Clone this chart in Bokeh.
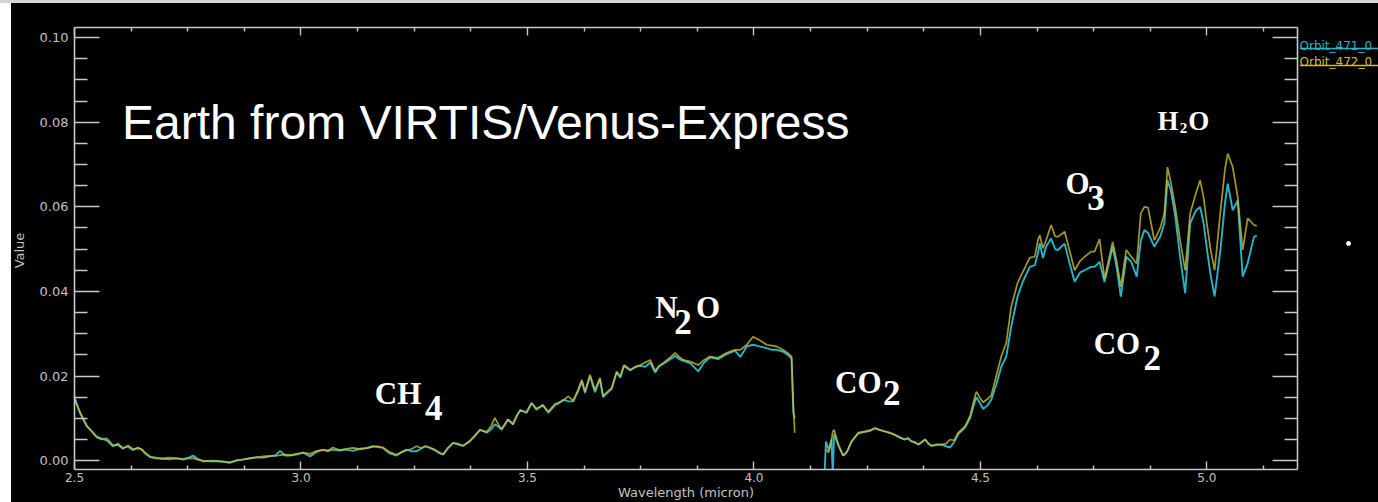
import math

from bokeh.plotting import figure
from bokeh.models import (ColumnDataSource, CustomJSTickFormatter, FixedTicker, Label,
                          LinearAxis, PrintfTickFormatter, Range1d, Spacer)
from bokeh.layouts import column, row
from bokeh.core.properties import value
from bokeh.embed import file_html
from bokeh.resources import INLINE

nan = float("nan")

# ---- spectra: short-wave segment (up to the 4.1 micron cut-off) ----
wl_short = [
    2.500, 2.512, 2.527, 2.540, 2.549, 2.560, 2.571, 2.585, 2.596, 2.607,
    2.618, 2.629, 2.640, 2.648, 2.658, 2.667, 2.680, 2.695, 2.710, 2.725,
    2.740, 2.752, 2.762, 2.772, 2.784, 2.800, 2.814, 2.828, 2.843, 2.858,
    2.872, 2.887, 2.902, 2.917, 2.932, 2.944, 2.954, 2.965, 2.976, 2.990,
    3.005, 3.020, 3.035, 3.049, 3.060, 3.070, 3.085, 3.100, 3.115, 3.130,
    3.145, 3.159, 3.170, 3.181, 3.196, 3.211, 3.222, 3.233, 3.245, 3.255,
    3.265, 3.275, 3.284, 3.296, 3.307, 3.314, 3.325, 3.336, 3.347, 3.358,
    3.373, 3.384, 3.395, 3.410, 3.420, 3.428, 3.436, 3.443, 3.457, 3.468,
    3.476, 3.484, 3.498, 3.509, 3.520, 3.534, 3.546, 3.561, 3.570, 3.579,
    3.590, 3.601, 3.612, 3.620, 3.627, 3.638, 3.649, 3.660, 3.667, 3.676,
    3.686, 3.697, 3.705, 3.713, 3.727, 3.738, 3.749, 3.760, 3.771, 3.782,
    3.790, 3.800, 3.813, 3.826, 3.835, 3.844, 3.860, 3.877, 3.890, 3.903,
    3.921, 3.940, 3.958, 3.970, 3.984, 3.998, 4.012, 4.028, 4.040, 4.050,
    4.064, 4.075, 4.083, 4.087, 4.090,
]
orbit471_short = [
    0.0150, 0.0113, 0.0081, 0.0068, 0.0057, 0.0052, 0.0048, 0.0034, 0.0040, 0.0030,
    0.0033, 0.0025, 0.0031, 0.0026, 0.0015, 0.0009, 0.0007, 0.0005, 0.0007, 0.0005,
    0.0004, 0.0007, 0.0012, 0.0004, -0.0002, 0.0000, -0.0001, -0.0003, -0.0005, 0.0000,
    0.0003, 0.0005, 0.0008, 0.0007, 0.0010, 0.0013, 0.0023, 0.0012, 0.0012, 0.0016,
    0.0019, 0.0010, 0.0021, 0.0026, 0.0024, 0.0026, 0.0024, 0.0026, 0.0023, 0.0028,
    0.0030, 0.0034, 0.0032, 0.0030, 0.0017, 0.0012, 0.0020, 0.0026, 0.0022, 0.0022,
    0.0028, 0.0034, 0.0030, 0.0024, 0.0017, 0.0014, 0.0030, 0.0042, 0.0038, 0.0035,
    0.0046, 0.0058, 0.0073, 0.0066, 0.0074, 0.0086, 0.0080, 0.0073, 0.0097, 0.0085,
    0.0104, 0.0120, 0.0113, 0.0137, 0.0120, 0.0132, 0.0113, 0.0132, 0.0136, 0.0144,
    0.0140, 0.0140, 0.0165, 0.0188, 0.0160, 0.0200, 0.0162, 0.0192, 0.0150, 0.0160,
    0.0170, 0.0209, 0.0196, 0.0224, 0.0213, 0.0222, 0.0224, 0.0222, 0.0232, 0.0208,
    0.0222, 0.0229, 0.0238, 0.0248, 0.0240, 0.0236, 0.0230, 0.0211, 0.0232, 0.0244,
    0.0240, 0.0252, 0.0260, 0.0245, 0.0270, 0.0274, 0.0270, 0.0266, 0.0262, 0.0262,
    0.0258, 0.0250, 0.0242, 0.0113, 0.0100,
]
orbit472_short = [
    0.0145, 0.0115, 0.0083, 0.0066, 0.0055, 0.0050, 0.0053, 0.0036, 0.0037, 0.0028,
    0.0036, 0.0027, 0.0029, 0.0027, 0.0017, 0.0008, 0.0005, 0.0004, 0.0003, 0.0006,
    0.0002, 0.0005, 0.0006, 0.0002, 0.0000, -0.0002, -0.0001, -0.0002, -0.0004, 0.0001,
    0.0002, 0.0006, 0.0008, 0.0010, 0.0011, 0.0011, 0.0013, 0.0014, 0.0013, 0.0014,
    0.0019, 0.0016, 0.0023, 0.0025, 0.0022, 0.0031, 0.0025, 0.0028, 0.0030, 0.0027,
    0.0029, 0.0033, 0.0034, 0.0031, 0.0020, 0.0014, 0.0020, 0.0024, 0.0028, 0.0034,
    0.0030, 0.0034, 0.0031, 0.0026, 0.0018, 0.0015, 0.0031, 0.0042, 0.0040, 0.0035,
    0.0047, 0.0060, 0.0072, 0.0068, 0.0082, 0.0101, 0.0085, 0.0075, 0.0098, 0.0087,
    0.0106, 0.0118, 0.0115, 0.0135, 0.0123, 0.0130, 0.0116, 0.0134, 0.0138, 0.0142,
    0.0152, 0.0142, 0.0168, 0.0191, 0.0163, 0.0203, 0.0167, 0.0196, 0.0152, 0.0162,
    0.0172, 0.0211, 0.0199, 0.0226, 0.0215, 0.0221, 0.0226, 0.0232, 0.0238, 0.0212,
    0.0224, 0.0231, 0.0242, 0.0255, 0.0245, 0.0238, 0.0234, 0.0226, 0.0238, 0.0246,
    0.0243, 0.0255, 0.0262, 0.0262, 0.0274, 0.0293, 0.0285, 0.0274, 0.0272, 0.0270,
    0.0262, 0.0254, 0.0246, 0.0130, 0.0066,
]

# ---- spectra: long-wave segment (after the CO2 gap) ----
wl_long = [
    4.156, 4.159, 4.165, 4.171, 4.174, 4.177, 4.187, 4.197, 4.205, 4.216,
    4.230, 4.245, 4.256, 4.267, 4.278, 4.289, 4.300, 4.311, 4.322, 4.333,
    4.340, 4.347, 4.355, 4.363, 4.370, 4.378, 4.385, 4.392, 4.403, 4.414,
    4.424, 4.433, 4.442, 4.451, 4.466, 4.477, 4.485, 4.491, 4.498, 4.506,
    4.515, 4.524, 4.535, 4.546, 4.557, 4.568, 4.582, 4.594, 4.609, 4.620,
    4.627, 4.631, 4.638, 4.645, 4.656, 4.665, 4.671, 4.686, 4.696, 4.708,
    4.720, 4.730, 4.744, 4.752, 4.763, 4.774, 4.792, 4.801, 4.810, 4.822,
    4.833, 4.845, 4.854, 4.862, 4.870, 4.884, 4.897, 4.906, 4.913, 4.920,
    4.930, 4.941, 4.952, 4.963, 4.975, 4.985, 4.993, 5.000, 5.008, 5.017,
    5.030, 5.040, 5.046, 5.057, 5.068, 5.079, 5.090, 5.104, 5.110,
]
orbit471_long = [
    -0.0030, 0.0045, 0.0025, 0.0050, -0.0030, 0.0062, 0.0036, 0.0012, 0.0020, 0.0046,
    0.0064, 0.0068, 0.0070, 0.0076, 0.0072, 0.0069, 0.0066, 0.0061, 0.0054, 0.0050,
    0.0054, 0.0046, 0.0044, 0.0038, 0.0044, 0.0050, 0.0040, 0.0035, 0.0038, 0.0038,
    0.0034, 0.0031, 0.0044, 0.0063, 0.0078, 0.0100, 0.0130, 0.0150, 0.0138, 0.0122,
    0.0130, 0.0144, 0.0180, 0.0222, 0.0246, 0.0317, 0.0388, 0.0424, 0.0458, 0.0462,
    0.0490, 0.0514, 0.0479, 0.0506, 0.0525, 0.0500, 0.0498, 0.0513, 0.0470, 0.0423,
    0.0445, 0.0450, 0.0458, 0.0458, 0.0470, 0.0422, 0.0506, 0.0455, 0.0388, 0.0482,
    0.0470, 0.0435, 0.0520, 0.0545, 0.0538, 0.0506, 0.0530, 0.0561, 0.0663, 0.0640,
    0.0580, 0.0480, 0.0396, 0.0561, 0.0590, 0.0600, 0.0560, 0.0500, 0.0440, 0.0388,
    0.0500, 0.0610, 0.0655, 0.0592, 0.0615, 0.0435, 0.0467, 0.0529, 0.0532,
]
orbit472_long = [
    nan, 0.0026, 0.0019, 0.0046, 0.0068, 0.0073, 0.0034, 0.0012, 0.0020, 0.0046,
    0.0066, 0.0069, 0.0072, 0.0077, 0.0073, 0.0069, 0.0065, 0.0061, 0.0056, 0.0050,
    0.0052, 0.0046, 0.0042, 0.0038, 0.0043, 0.0050, 0.0041, 0.0035, 0.0037, 0.0038,
    0.0040, 0.0050, 0.0048, 0.0066, 0.0081, 0.0105, 0.0140, 0.0163, 0.0150, 0.0138,
    0.0145, 0.0154, 0.0200, 0.0246, 0.0278, 0.0364, 0.0420, 0.0447, 0.0480, 0.0482,
    0.0521, 0.0533, 0.0502, 0.0521, 0.0557, 0.0530, 0.0529, 0.0541, 0.0500, 0.0450,
    0.0472, 0.0482, 0.0494, 0.0494, 0.0524, 0.0430, 0.0517, 0.0470, 0.0411, 0.0498,
    0.0482, 0.0466, 0.0584, 0.0600, 0.0598, 0.0521, 0.0550, 0.0584, 0.0694, 0.0660,
    0.0600, 0.0520, 0.0450, 0.0584, 0.0630, 0.0663, 0.0620, 0.0560, 0.0500, 0.0450,
    0.0590, 0.0690, 0.0726, 0.0694, 0.0623, 0.0498, 0.0573, 0.0557, 0.0555,
]

x_major_ticks = [2.5, 3.0, 3.5, 4.0, 4.5, 5.0]
y_major_ticks = [0.00, 0.02, 0.04, 0.06, 0.08, 0.10]
series_names = ["Orbit_471_0", "Orbit_472_0"]

CYAN = "#22b6c8"
YELLOW = "#d2bb2c"
AXIS = "#c8c8c8"
LABEL = "#c2c2c2"

source = ColumnDataSource(dict(
    wl=wl_short + [nan] + wl_long,
    o471=orbit471_short + [nan] + orbit471_long,
    o472=orbit472_short + [nan] + orbit472_long,
))

p = figure(width=1269, height=499, title=None,
           x_range=Range1d(2.5, 5.2), y_range=Range1d(-0.0021, 0.1024),
           output_backend="svg", toolbar_location=None,
           background_fill_color="black", border_fill_color="black",
           outline_line_color=None,
           min_border_left=44, min_border_right=2,
           min_border_top=24, min_border_bottom=32)
p.grid.visible = False

# tick positions: 4 minor intervals per major step
x_minor = [2.5 + 0.125 * k for k in range(22) if k % 4]
y_minor = [0.005 * k for k in range(21) if k % 4]
x_ticker = FixedTicker(ticks=x_major_ticks, minor_ticks=x_minor)
y_ticker = FixedTicker(ticks=y_major_ticks, minor_ticks=y_minor)


def style_axis(ax, major_in, minor_in, label_px="12px"):
    ax.axis_line_color = AXIS
    ax.axis_line_width = 1.6
    ax.major_tick_line_color = AXIS
    ax.minor_tick_line_color = AXIS
    ax.major_tick_line_width = 1.4
    ax.minor_tick_line_width = 1.4
    ax.major_tick_in = major_in
    ax.major_tick_out = 0
    ax.minor_tick_in = minor_in
    ax.minor_tick_out = 0
    ax.major_label_text_color = LABEL
    ax.major_label_text_font = "DejaVu Sans"
    ax.major_label_text_font_size = label_px
    ax.axis_label_text_color = LABEL
    ax.axis_label_text_font = "DejaVu Sans"
    ax.axis_label_text_font_size = "13px"
    ax.axis_label_text_font_style = "normal"


xb = p.xaxis[0]
xb.ticker = x_ticker
xb.formatter = PrintfTickFormatter(format="%.1f")
xb.axis_label = "Wavelength (micron)"
style_axis(xb, 8, 4)
xb.major_label_standoff = 3
xb.axis_label_standoff = 0

yl = p.yaxis[0]
yl.ticker = y_ticker
yl.formatter = PrintfTickFormatter(format="%.2f")
style_axis(yl, 25, 13, "13px")
yl.major_label_standoff = 6

blank = CustomJSTickFormatter(code="return ''")
xt = LinearAxis(ticker=x_ticker, formatter=blank)
style_axis(xt, 8, 4)
xt.major_label_standoff = 0
xt.major_label_text_font_size = "1px"
p.add_layout(xt, "above")

yr = LinearAxis(ticker=y_ticker, formatter=blank)
style_axis(yr, 25, 13)
yr.major_label_standoff = 0
yr.major_label_text_font_size = "1px"
p.add_layout(yr, "right")

# the two orbits
p.line("wl", "o471", source=source, line_color=CYAN, line_width=1.9)
p.line("wl", "o472", source=source, line_color=YELLOW, line_width=1.7, line_alpha=0.8)

# headline
p.add_layout(Label(x=2.605, y=0.0800, text="Earth from VIRTIS/Venus-Express",
                   text_color="white", text_font="Liberation Sans",
                   text_font_size="48px", text_baseline="alphabetic"))

# absorption-band formulas: (text, wavelength, value, font size)
formula_pieces = [
    ("CH", 3.163, 0.0158, 31), ("4", 3.274, 0.0125, 35),
    ("N", 3.782, 0.0361, 31), ("2", 3.824, 0.0328, 35), ("O", 3.872, 0.0361, 31),
    ("CO", 4.179, 0.0184, 31), ("2", 4.285, 0.0160, 35),
    ("O", 4.688, 0.0656, 31), ("3", 4.736, 0.0620, 35),
    ("CO", 4.750, 0.0278, 31), ("2", 4.860, 0.0243, 35),
    ("H", 4.891, 0.0802, 27), ("2", 4.940, 0.0787, 15), ("O", 4.959, 0.0802, 27),
]
for txt, wx, vy, size in formula_pieces:
    p.add_layout(Label(x=wx, y=vy, text=txt, text_color="white",
                       text_font="Liberation Serif", text_font_style="bold",
                       text_font_size=f"{size}px", text_baseline="alphabetic"))


def side_panel(width):
    # plain black panel in pixel coordinates (y grows downwards)
    f = figure(width=width, height=499, title=None,
               x_range=Range1d(0, width), y_range=Range1d(499, 0),
               output_backend="svg", toolbar_location=None,
               background_fill_color="black", border_fill_color="black",
               outline_line_color=None, min_border=0,
               min_border_left=0, min_border_right=0,
               min_border_top=0, min_border_bottom=0,
               x_axis_location=None, y_axis_location=None,
               frame_align=False)
    f.grid.visible = False
    return f


# y-axis title panel
vpanel = side_panel(19)
vpanel.text(x=[8], y=[247], text=["Value"], angle=math.pi / 2,
            text_color=LABEL, text_font=value("DejaVu Sans"), text_font_size="13px",
            text_align="center", text_baseline="middle")

# legend panel to the right of the plot frame
leg = side_panel(79)
leg.text(x=[0, 0], y=[42, 58], text=series_names, text_color=[CYAN, YELLOW],
         text_font=value("DejaVu Sans"), text_font_size="12px",
         text_baseline="alphabetic")
leg.segment(x0=[0, 0], y0=[45, 62], x1=[79, 79], y1=[45, 62],
            line_color=[CYAN, YELLOW], line_width=1.5)
leg.scatter(x=[49], y=[240], size=4, color="white")

top_strip = Spacer(width=1378, height=3, styles={"background-color": "#d6d6d6"})
left_strip = Spacer(width=11, height=499, styles={"background-color": "white"})
body = row(left_strip, vpanel, p, leg, styles={"background-color": "black"})
layout = column(top_strip, body, styles={"background-color": "black"})

open("out.html", "w").write(file_html(layout, INLINE))
